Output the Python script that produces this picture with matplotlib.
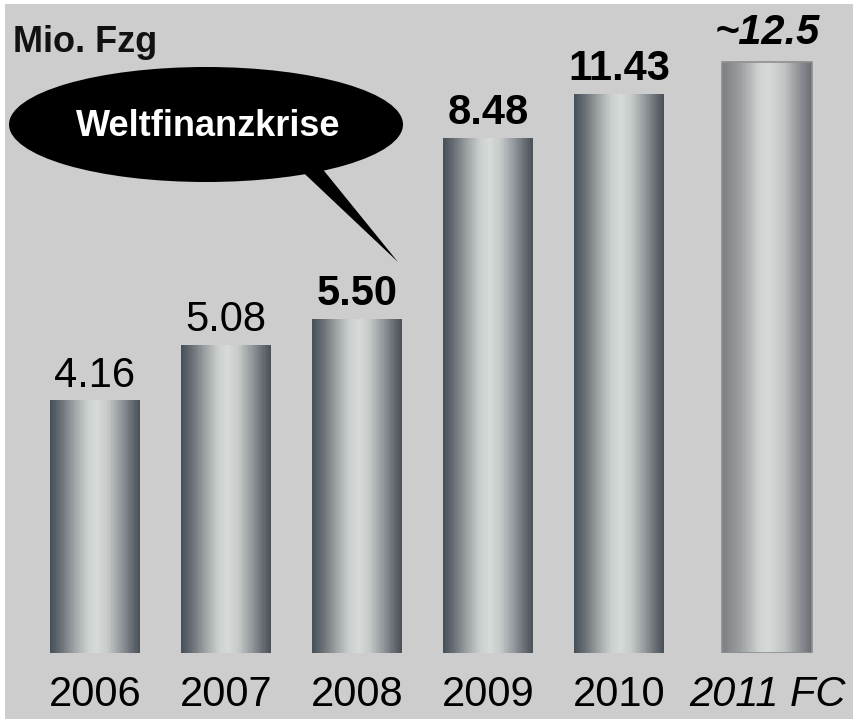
import numpy as np
import matplotlib
matplotlib.use("Agg")
import matplotlib.pyplot as plt
from matplotlib.patches import Ellipse, Polygon, Rectangle
from matplotlib.colors import LinearSegmentedColormap

# ---- data ----
years = ["2006", "2007", "2008", "2009", "2010", "2011 FC"]
values = [4.16, 5.08, 5.50, 8.48, 11.43, 12.5]
value_labels = ["4.16", "5.08", "5.50", "8.48", "11.43", "~12.5"]
unit_label = "Mio. Fzg"
callout_text = "Weltfinanzkrise"

# ---- styling / layout ----
W, H = 854, 719
FONT = "Liberation Sans"
label_weights = ["normal", "normal", "bold", "bold", "bold", "bold"]
label_styles = ["normal"] * 5 + ["italic"]
year_styles = ["normal"] * 5 + ["italic"]
xpos = [0, 1, 2, 3, 4, 5.13]
bar_w = 0.68

# broken (compressed) value axis above the break, as in the original graphic
BRK, A, P = 8.5, 0.1037, 1.79
def fwd(v):
    v = np.asarray(v, dtype=float)
    d = np.clip(v - BRK, 0, None)
    return np.where(v <= BRK, v, BRK + A * d ** P)
def inv(u):
    u = np.asarray(u, dtype=float)
    d = np.clip(u - BRK, 0, None)
    return np.where(u <= BRK, u, BRK + (d / A) ** (1 / P))

fig = plt.figure(figsize=(W / 100, H / 100), dpi=100)
fig.patch.set_facecolor("white")
fig.patches.append(Rectangle((5 / W, 0), 1 - 5 / W, 1 - 4 / H,
                             transform=fig.transFigure, facecolor="#cdcdcd",
                             edgecolor="none", zorder=-10))

ax_bottom = 66 / H
ax = fig.add_axes([0, ax_bottom, 1, 1 - ax_bottom])
ax.set_facecolor("none")
ax.set_yscale("function", functions=(fwd, inv))
px_per_unit = 60.7
ax.set_ylim(0, float(inv(653 / px_per_unit)))
ax.set_xlim(-95 / 131, (W - 95) / 131)
ax.axis("off")

cmap_main = LinearSegmentedColormap.from_list("metal", [
    (0.0, "#465058"), (0.12, "#6a7076"), (0.28, "#a3a7a9"), (0.42, "#ccd1d0"),
    (0.52, "#d6dad8"), (0.64, "#c6cac9"), (0.80, "#90959a"), (0.92, "#646a70"),
    (1.0, "#4a5159")])
cmap_fc = LinearSegmentedColormap.from_list("metal_fc", [
    (0.0, "#7c8084"), (0.2, "#9a9ea0"), (0.4, "#ccd0cf"), (0.52, "#d6dad8"),
    (0.7, "#bfc3c2"), (0.88, "#8a8e92"), (1.0, "#6a6f74")])

N = 60
for i, (x, v) in enumerate(zip(xpos, values)):
    cm = cmap_fc if i == 5 else cmap_main
    left = x - bar_w / 2
    sw = bar_w / N
    lefts = left + sw * np.arange(N)
    cols = [cm((k + 0.5) / N) for k in range(N)]
    ax.bar(lefts, [v] * N, width=sw * 1.02, align="edge", color=cols,
           linewidth=0, antialiased=False, zorder=2)
    if i == 5:
        ax.bar([x], [v], width=bar_w, facecolor="none", edgecolor="#8e8e8e",
               linewidth=1.2, zorder=3)
    off = 13 if i == 5 else 10
    ax.annotate(value_labels[i], (x, v), xytext=(0, off), textcoords="offset points",
                ha="center", va="baseline", fontsize=30, family=FONT,
                fontweight=label_weights[i], fontstyle=label_styles[i],
                color="black", annotation_clip=False)
    ax.annotate(years[i], (x, 0), xytext=(0, -38), textcoords="offset points",
                ha="center", va="baseline", fontsize=30, family=FONT,
                fontstyle=year_styles[i], color="black", annotation_clip=False)

# unit label
fig.text(13 / W, 1 - 52 / H, unit_label, ha="left", va="baseline",
         fontsize=26, fontweight="bold", family=FONT, color="#111111")

# callout bubble
fig.patches.append(Ellipse((206 / W, 1 - 124.5 / H), 394 / W, 115 / H,
                           transform=fig.transFigure, facecolor="black",
                           edgecolor="none", zorder=5))
tail = [(290, 160), (312, 156), (398, 262)]
fig.patches.append(Polygon([(px / W, 1 - py / H) for px, py in tail], closed=True,
                           transform=fig.transFigure, facecolor="black",
                           edgecolor="none", zorder=5))
fig.text(208 / W, 1 - 126 / H, callout_text, ha="center", va="center",
         fontsize=26, fontweight="bold", family=FONT, color="white", zorder=6)

fig.savefig("out.png", dpi=100)
